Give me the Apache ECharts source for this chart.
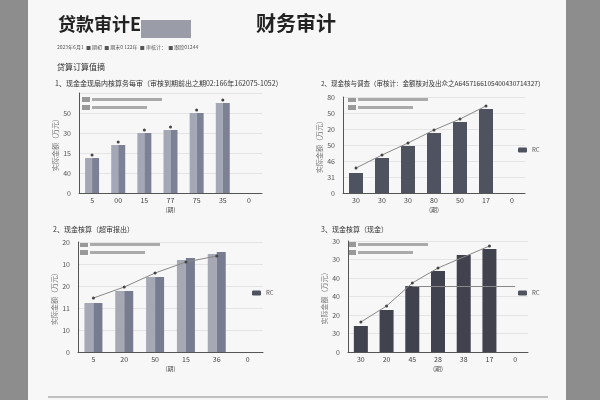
<!DOCTYPE html><html><head><meta charset="utf-8"><script src="https://cdn.jsdelivr.net/npm/echarts@6/dist/echarts.min.js"></script></head><body style="margin:0;background:#8d8d8d"><div id="c" style="width:600px;height:400px"></div><script>
const cats1=['5','00','15','77','75','35','0'], vals1=[35,48,60,63,80,90], mk1=[38,51,63,66,83,93];
const cats2=['30','30','30','80','50','17','0'], vals2=[20,35,47,60,71,84], ln2=[25,38,50,63,74,87];
const cats3=['5','20','50','15','36','0'], vals3=[49,61,75,92,98], vals3b=[49,61,75,94,100], ln3=[54,65,79,90,96];
const cats4=['30','20','45','28','38','17','0'], vals4=[26,42,66,81,97,103], ln4=[30,46,69,84,null,106];
const yl1=['0','40','15','30','50',''], yl2=['0','31','46','50','20','50','80'], yl3=['0','10','11','20','10','20'], yl4=['0','30','20','40','40','30','30'];
const F='"Noto Sans CJK SC"';
const grids=[{left:79,top:93,width:183,height:100},{left:343,top:97,width:182,height:96},{left:78,top:242,width:185,height:110},{left:348,top:241,width:180,height:111}];
const yax=(i,lab,max,int)=>({type:'value',gridIndex:i,min:0,max:max,interval:int,axisLine:{show:true,lineStyle:{color:'#555'}},axisTick:{show:false},splitLine:{lineStyle:{color:'#e4e4e4'}},axisLabel:{fontSize:7,color:'#555',formatter:(v)=>lab[Math.round(v/int)]||''},name:'实际金额（万元）',nameLocation:'middle',nameGap:20,nameTextStyle:{fontSize:7,color:'#777',fontFamily:F}});
const xax=(i,c)=>({type:'category',gridIndex:i,data:c,axisLine:{lineStyle:{color:'#555'}},axisTick:{show:false},axisLabel:{fontSize:7,color:'#444',margin:4},name:'(期)',nameLocation:'middle',nameGap:14,nameTextStyle:{fontSize:6,color:'#555',fontFamily:F}});
const chart=echarts.init(document.getElementById('c'));
const lineS=(i,d,sym)=>({type:'line',xAxisIndex:i,yAxisIndex:i,data:d,symbol:'circle',symbolSize:3,itemStyle:{color:'#444'},lineStyle:{color:'#888',width:sym?0:1},z:5});
chart.setOption({animation:false,textStyle:{fontFamily:F},
graphic:[{type:'rect',shape:{x:28,y:0,width:538,height:400},style:{fill:'#f7f7f7'},z:-10},
{type:'text',left:58,top:15,style:{text:'贷款审计E',font:'bold 18px '+F,fill:'#222'}},
{type:'rect',shape:{x:141,y:20,width:50,height:18},style:{fill:'#9a9ca8'}},
{type:'text',left:256,top:13,style:{text:'财务审计',font:'bold 20px '+F,fill:'#222'}},
{type:'text',left:57,top:45,style:{text:'2023年6月1  ■ 期初  ■ 期末0 122年  ■ 审核计：  ■ 跟踪01244',font:'5px '+F,fill:'#555'}},
{type:'text',left:57,top:63,style:{text:'贷算订算值摘',font:'8px '+F,fill:'#333'}},
{type:'text',left:55,top:80,style:{text:'1、现金金现扇内核算务每审（审核到期前出之期02:166年162075-1052）',font:'7px '+F,fill:'#333'}},
{type:'text',left:321,top:80,style:{text:'2、现金核与调查（审核计：金额核对及出众之A6457166105400430714327）',font:'6.5px '+F,fill:'#333'}},
{type:'text',left:53,top:226,style:{text:'2、现金核算（超审报出）',font:'7px '+F,fill:'#333'}},
{type:'text',left:321,top:226,style:{text:'3、现金核算（现金）',font:'7px '+F,fill:'#333'}},
{type:'line',shape:{x1:48,y1:397,x2:548,y2:397},style:{stroke:'#888',lineWidth:1}}
].concat([[82,97],[348,97],[80,242],[348,242]].flatMap(([x,y])=>[
{type:'rect',shape:{x:x,y:y,width:8,height:5},style:{fill:'#999'}},{type:'rect',shape:{x:x+10,y:y+1,width:70,height:3},style:{fill:'#aaa'}},
{type:'rect',shape:{x:x,y:y+8,width:8,height:5},style:{fill:'#999'}},{type:'rect',shape:{x:x+10,y:y+9,width:55,height:3},style:{fill:'#aaa'}}])),
legend:[{data:['RC'],left:513,top:142,itemWidth:9,itemHeight:5,textStyle:{fontSize:6,color:'#555'}},{data:['RC'],left:247,top:285,itemWidth:9,itemHeight:5,textStyle:{fontSize:6,color:'#555'}},{data:['RC'],left:513,top:285,itemWidth:9,itemHeight:5,textStyle:{fontSize:6,color:'#555'}}],
grid:grids,
xAxis:[xax(0,cats1),xax(1,cats2),xax(2,cats3),xax(3,cats4)],
yAxis:[yax(0,yl1,100,20),yax(1,yl2,96,16),yax(2,yl3,110,22),yax(3,yl4,111,18.5)],
series:[
{type:'bar',xAxisIndex:0,yAxisIndex:0,data:vals1,barWidth:7,barGap:'0%',itemStyle:{color:'#a4a8b6'}},
{type:'bar',xAxisIndex:0,yAxisIndex:0,data:vals1,barWidth:7,itemStyle:{color:'#7c8196'}},
lineS(0,mk1,true),
{name:'RC',type:'bar',xAxisIndex:1,yAxisIndex:1,data:vals2,barWidth:14,itemStyle:{color:'#4f5360'}},
lineS(1,ln2,false),
{type:'bar',xAxisIndex:2,yAxisIndex:2,data:vals3,barWidth:9,barGap:'0%',itemStyle:{color:'#a6a9b4'}},
{name:'RC',type:'bar',xAxisIndex:2,yAxisIndex:2,data:vals3b,barWidth:9,itemStyle:{color:'#777c90'}},
lineS(2,ln3,false),
{name:'RC',type:'bar',xAxisIndex:3,yAxisIndex:3,data:vals4,barWidth:14,itemStyle:{color:'#40434d'},
 markLine:{silent:true,symbol:'none',label:{show:false},lineStyle:{color:'#888',type:'solid',width:1},data:[[{coord:['45',66]},{coord:['0',66]}]]}},
Object.assign(lineS(3,ln4,false),{connectNulls:true})
]});
</script></body></html>
